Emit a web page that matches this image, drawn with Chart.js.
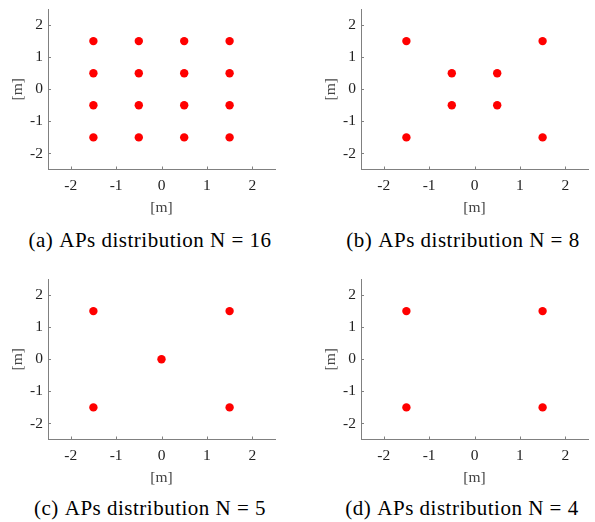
<!DOCTYPE html>
<html>
<head>
<meta charset="utf-8">
<script src="https://cdn.jsdelivr.net/npm/chart.js@4/dist/chart.umd.min.js"></script>
<style>
  body { margin: 0; background: #fff; }
  #fig { position: relative; width: 595px; height: 522px; overflow: hidden; }
  canvas { position: absolute; }
  .cap {
    position: absolute; width: 300px; margin-left: -150px; text-align: center;
    font-family: 'Liberation Serif', 'Times New Roman', serif; font-size: 21px;
    letter-spacing: 0.5px; color: #000; line-height: 22px; white-space: nowrap;
  }
  .cap .tag { margin-right: 6px; }
</style>
</head>
<body>
<div id="fig">
  <canvas id="pa" width="297" height="225" style="left:0;top:0"></canvas>
  <canvas id="pb" width="297" height="225" style="left:313px;top:0"></canvas>
  <canvas id="pc" width="297" height="225" style="left:0;top:270px"></canvas>
  <canvas id="pd" width="297" height="225" style="left:313px;top:270px"></canvas>
  <div class="cap" style="left:150px;top:229px"><span class="tag">(a)</span>APs distribution N = 16</div>
  <div class="cap" style="left:463px;top:229px"><span class="tag">(b)</span>APs distribution N = 8</div>
  <div class="cap" style="left:150px;top:497px"><span class="tag">(c)</span>APs distribution N = 5</div>
  <div class="cap" style="left:462px;top:497px"><span class="tag">(d)</span>APs distribution N = 4</div>
</div>
<script>
// axis ticks shared by all four panels
const tickValues = [-2, -1, 0, 1, 2];
const tickLabels = ['-2', '-1', '0', '1', '2'];

// access point positions [m]
const apsN16X = [-1.5, -0.5, 0.5, 1.5, -1.5, -0.5, 0.5, 1.5, -1.5, -0.5, 0.5, 1.5, -1.5, -0.5, 0.5, 1.5];
const apsN16Y = [1.5, 1.5, 1.5, 1.5, 0.5, 0.5, 0.5, 0.5, -0.5, -0.5, -0.5, -0.5, -1.5, -1.5, -1.5, -1.5];

const apsN8X = [-1.5, 1.5, -0.5, 0.5, -0.5, 0.5, -1.5, 1.5];
const apsN8Y = [1.5, 1.5, 0.5, 0.5, -0.5, -0.5, -1.5, -1.5];

const apsN5X = [-1.5, 1.5, 0, -1.5, 1.5];
const apsN5Y = [1.5, 1.5, 0, -1.5, -1.5];

const apsN4X = [-1.5, 1.5, -1.5, 1.5];
const apsN4Y = [1.5, 1.5, -1.5, -1.5];

const axisColor = '#808080';
const textColor = '#222';
const serif = "'Liberation Serif', 'Times New Roman', serif";

// MATLAB-style ticks pointing into the plot area
const inwardTicks = {
  id: 'inwardTicks',
  afterDatasetsDraw(chart) {
    const { ctx, chartArea } = chart;
    const xs = chart.scales.x, ys = chart.scales.y;
    ctx.save();
    ctx.strokeStyle = axisColor;
    ctx.lineWidth = 1;
    ctx.beginPath();
    xs.ticks.forEach((t, i) => {
      const px = Math.round(xs.getPixelForTick(i)) + 0.5;
      ctx.moveTo(px, chartArea.bottom);
      ctx.lineTo(px, chartArea.bottom - 3);
    });
    ys.ticks.forEach((t, i) => {
      const py = Math.round(ys.getPixelForTick(i)) + 0.5;
      ctx.moveTo(chartArea.left, py);
      ctx.lineTo(chartArea.left + 3, py);
    });
    ctx.stroke();
    ctx.restore();
  }
};

function axis(isX) {
  return {
    type: 'linear',
    min: -2.5,
    max: 2.5,
    afterBuildTicks: s => { s.ticks = tickValues.map(v => ({ value: v })); },
    afterFit: s => {
      // fixed axis band; labels never sit on the ends, so no edge padding
      if (isX) s.height = 55.5; else s.width = 48;
      s.paddingTop = s.paddingBottom = s.paddingLeft = s.paddingRight = 0;
    },
    grid: { display: true, drawOnChartArea: false, drawTicks: false },
    border: { display: true, color: axisColor, width: 1 },
    ticks: {
      color: textColor,
      font: { family: serif, size: 15.5 },
      padding: isX ? 7 : 5,
      maxRotation: 0,
      callback: (v) => tickLabels[tickValues.indexOf(v)]
    },
    title: {
      display: true,
      text: '[m]',
      color: '#444',
      font: { family: serif, size: 15.5 },
      padding: isX ? { top: 0, bottom: 7.5 } : { top: 8.5, bottom: 0 }
    }
  };
}

function panel(id, xs, ys) {
  new Chart(document.getElementById(id), {
    type: 'scatter',
    data: {
      datasets: [{
        data: xs.map((x, i) => ({ x: x, y: ys[i] })),
        backgroundColor: '#ff0000',
        borderWidth: 0,
        pointRadius: 4.2,
        pointHoverRadius: 4.2
      }]
    },
    options: {
      responsive: false,
      animation: false,
      layout: { padding: { left: 0, top: 9, right: 22, bottom: 0 } },
      plugins: { legend: { display: false }, tooltip: { enabled: false } },
      scales: { x: axis(true), y: axis(false) }
    },
    plugins: [inwardTicks]
  });
}

panel('pa', apsN16X, apsN16Y);
panel('pb', apsN8X, apsN8Y);
panel('pc', apsN5X, apsN5Y);
panel('pd', apsN4X, apsN4Y);
</script>
</body>
</html>
